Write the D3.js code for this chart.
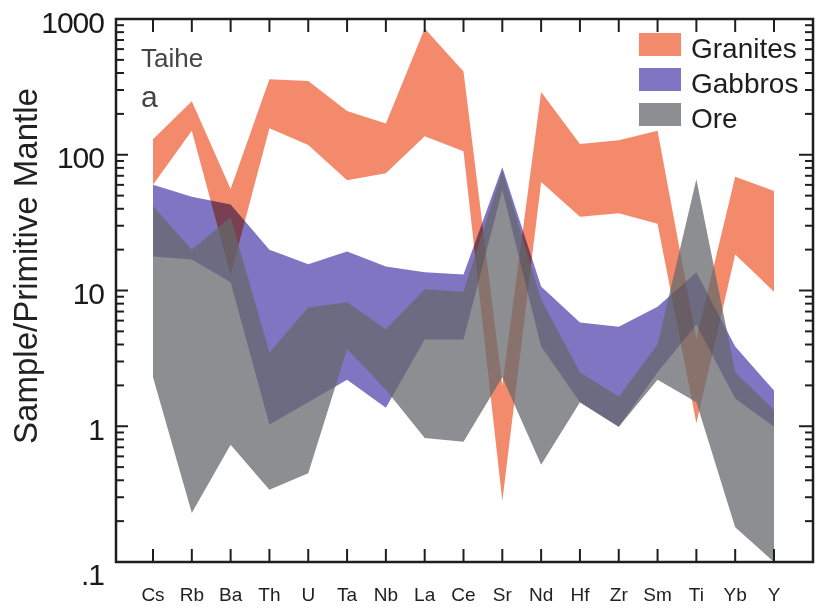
<!DOCTYPE html>
<html>
<head>
<meta charset="utf-8">
<script src="https://cdn.jsdelivr.net/npm/d3@7"></script>
<style>
  html, body { margin: 0; padding: 0; background: #ffffff; }
  svg { display: block; font-family: Arial, "Liberation Sans", Helvetica, sans-serif; }
</style>
</head>
<body>
<svg id="chart" width="817" height="613"></svg>
<script>
// ---------- data ----------
const elements = ["Cs","Rb","Ba","Th","U","Ta","Nb","La","Ce","Sr","Nd","Hf","Zr","Sm","Ti","Yb","Y"];
const yTickValues = [1000, 100, 10, 1, 0.1];
const yTickLabels = ["1000", "100", "10", "1", ".1"];

const granitesUpper = [130, 248, 56, 360, 350, 210, 170, 850, 410, 2.0, 290, 120, 128, 150, 4.4, 69, 54];
const granitesLower = [60, 150, 13, 157, 118, 65, 73, 137, 106, 0.28, 63, 35, 37, 31, 1.05, 18.4, 9.8];

const gabbrosUpper = [60, 49, 43, 20, 15.6, 19.4, 15, 13.6, 13.1, 81, 10.7, 5.8, 5.4, 7.6, 13.6, 3.86, 1.83];
const gabbrosLower = [17.8, 16.9, 11.5, 1.03, 1.5, 2.2, 1.37, 4.35, 4.35, 55, 3.86, 1.5, 0.99, 2.5, 5.6, 1.6, 0.99];

const oreUpper = [41.7, 20, 34.6, 3.5, 7.5, 8.2, 5.15, 10.2, 9.8, 76, 8.6, 2.5, 1.65, 4.0, 66, 2.5, 1.32];
const oreLower = [2.3, 0.23, 0.73, 0.34, 0.45, 3.7, 1.86, 0.82, 0.77, 2.3, 0.52, 1.5, 0.99, 2.2, 1.5, 0.18, 0.10];

const seriesNames = ["Granites", "Gabbros", "Ore"];

// ---------- layout ----------
const svg = d3.select("#chart");
const frame = { left: 116, right: 813, top: 19, bottom: 562 };

const x = d3.scalePoint().domain(elements).range([153, 774]);
const y = d3.scaleLog().domain([0.1, 1000]).range([frame.bottom, frame.top]);

function band(upper, lower) {
  return elements.map((el, i) => ({ el, hi: upper[i], lo: lower[i] }));
}
const area = d3.area()
  .x(d => x(d.el))
  .y0(d => y(d.lo))
  .y1(d => y(d.hi))
  .curve(d3.curveLinear);

const styles = {
  Granites: { fill: "#F48A6C", opacity: 1, blend: "normal" },
  Gabbros:  { fill: "#8075C2", opacity: 1, blend: "multiply" },
  Ore:      { fill: "rgb(102,104,108)", opacity: 0.75, blend: "normal" }
};
const bands = {
  Granites: band(granitesUpper, granitesLower),
  Gabbros: band(gabbrosUpper, gabbrosLower),
  Ore: band(oreUpper, oreLower)
};

const plot = svg.append("g");
seriesNames.forEach(name => {
  plot.append("path")
    .datum(bands[name])
    .attr("d", area)
    .attr("fill", styles[name].fill)
    .attr("fill-opacity", styles[name].opacity)
    .style("mix-blend-mode", styles[name].blend);
});

// ---------- frame & ticks ----------
const axisColor = "#1e1e1e";
svg.append("rect")
  .attr("x", frame.left).attr("y", frame.top)
  .attr("width", frame.right - frame.left).attr("height", frame.bottom - frame.top)
  .attr("fill", "none").attr("stroke", axisColor).attr("stroke-width", 2.5);

// log minor ticks
const allTicks = [];
for (let e = -1; e < 3; e++) {
  for (let m = 1; m <= 9; m++) allTicks.push({ v: m * Math.pow(10, e), major: m === 1 });
}
allTicks.push({ v: 1000, major: true });

const tickG = svg.append("g").attr("stroke", axisColor).attr("stroke-width", 2);
allTicks.forEach(t => {
  const yy = y(t.v);
  tickG.append("line").attr("x1", frame.left).attr("x2", frame.left + (t.major ? 12 : 8))
    .attr("y1", yy).attr("y2", yy);
  tickG.append("line").attr("x1", frame.right).attr("x2", frame.right - (t.major ? 14 : 8))
    .attr("y1", yy).attr("y2", yy);
});
elements.forEach(el => {
  const xx = x(el);
  tickG.append("line").attr("x1", xx).attr("x2", xx).attr("y1", frame.top).attr("y2", frame.top + 13);
  tickG.append("line").attr("x1", xx).attr("x2", xx).attr("y1", frame.bottom).attr("y2", frame.bottom - 13);
});

// y tick labels
svg.append("g").selectAll("text")
  .data(yTickValues)
  .join("text")
  .attr("x", 104)
  .attr("y", (d, i) => y(d) + (i === yTickValues.length - 1 ? 12 : 3))
  .attr("text-anchor", "end")
  .attr("dominant-baseline", "central")
  .attr("font-size", 30)
  .attr("fill", "#1a1a1a")
  .attr("letter-spacing", -1)
  .text((d, i) => yTickLabels[i]);

// x tick labels
svg.append("g").selectAll("text")
  .data(elements)
  .join("text")
  .attr("x", d => x(d))
  .attr("y", 601)
  .attr("text-anchor", "middle")
  .attr("font-size", 19)
  .attr("fill", "#222")
  .text(d => d);

// y axis title
svg.append("text")
  .attr("transform", "translate(37,266) rotate(-90)")
  .attr("text-anchor", "middle")
  .attr("font-size", 33)
  .attr("fill", "#222")
  .text("Sample/Primitive Mantle");

// annotations
svg.append("text").attr("x", 141).attr("y", 67).attr("font-size", 26).attr("fill", "#444").text("Taihe");
svg.append("text").attr("x", 141).attr("y", 107).attr("font-size", 30).attr("fill", "#444").text("a");

// legend
const legend = svg.append("g");
seriesNames.forEach((name, i) => {
  const top = 33 + i * 35;
  legend.append("rect")
    .attr("x", 639).attr("y", top).attr("width", 42).attr("height", 23)
    .attr("fill", styles[name].fill).attr("fill-opacity", styles[name].opacity);
  legend.append("text")
    .attr("x", 691).attr("y", top + 25)
    .attr("font-size", 28).attr("fill", "#1e1e1e")
    .text(name);
});
</script>
</body>
</html>
